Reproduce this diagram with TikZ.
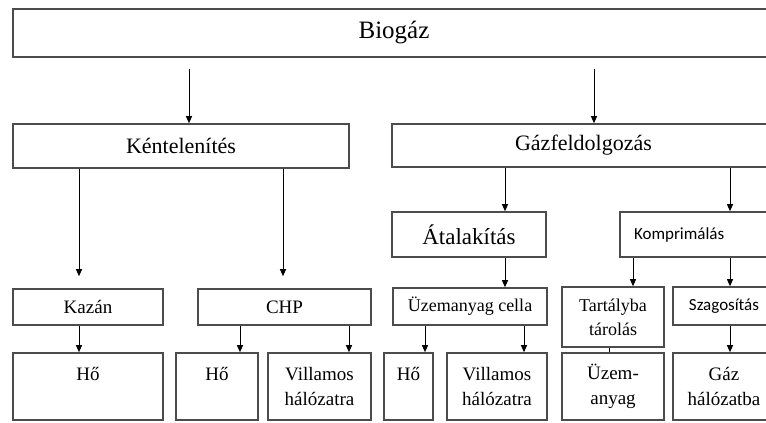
\documentclass[tikz,border=0pt]{standalone}
\usepackage{fontspec}
\setmainfont{Liberation Serif}
\newfontfamily\calibri{Carlito}
\usetikzlibrary{arrows.meta}

\newcommand{\fsz}[1]{\fontsize{#1}{1.35\dimexpr#1pt\relax}\selectfont}

\tikzset{
	box/.style={draw=black!70, line width=1.6pt, inner sep=0pt, align=center, text=black, font=\fsz{19}},
	sz/.style 2 args={minimum width=#1pt, minimum height=#2pt},
	arr/.style={-{Triangle[length=7pt,width=6pt]}, line width=1pt},
}

\begin{document}
\begin{tikzpicture}[x=1pt,y=-1pt]
	\useasboundingbox (0,0) rectangle (766,423);
	\clip (0,0) rectangle (766,423);
	% levels
	\node[box, sz={762}{48}, font=\fsz{25}] (biogaz) at (394,33) {Biogáz};
	\node[box, sz={336}{44}, font=\fsz{22}] (kentel) at (181,146) {Kéntelenítés};
	\node[box, sz={383}{43}, font=\fsz{22}] (gazfeld) at (583.5,145.5) {Gázfeldolgozás};
	\node[box, sz={154}{45}, font=\fsz{23}] (atalak) at (469,234.5) {Átalakítás};
	\node[box, sz={155}{45}, font=\calibri\fsz{17}, text width=127pt, inner xsep=14pt, align=left] (kompr) at (697.5,234.5) {Komprimálás};
	\node[box, sz={150}{36}] (kazan) at (88,307) {Kazán};
	\node[box, sz={173}{36}] (chp) at (284.5,307) {CHP};
	\node[box, sz={154}{37}, font=\fsz{18}] (cella) at (470,306.5) {Üzemanyag cella};
	\node[box, sz={102}{60}, font=\fsz{18}] (tartaly) at (613,317) {Tartályba\\tárolás};
	\node[box, sz={102}{38}, font=\calibri\fsz{17}] (szag) at (724,306) {Szagosítás};
	\node[box, sz={150}{67}] (ho1) at (88,386.5) {Hő\\\phantom{x}};
	\node[box, sz={82}{67}] (ho2) at (217,386.5) {Hő\\\phantom{x}};
	\node[box, sz={103}{67}] (vill1) at (319.5,386.5) {Villamos\\hálózatra};
	\node[box, sz={49}{67}] (ho3) at (408.5,386.5) {Hő\\\phantom{x}};
	\node[box, sz={100}{67}] (vill2) at (497,386.5) {Villamos\\hálózatra};
	\node[box, sz={102}{67}] (uzem) at (613,386.5) {Üzem-\\anyag};
	\node[box, sz={102}{67}] (gaz) at (724,386.5) {Gáz\\hálózatba};
	% arrows
	\draw[arr, shorten <=11pt] (biogaz.south -| 189,0) -- (kentel.north -| 189,0);
	\draw[arr, shorten <=11pt] (biogaz.south -| 594,0) -- (gazfeld.north -| 594,0);
	\draw[arr, shorten >=12pt] (kentel.south -| 79,0) -- (kazan.north -| 79,0);
	\draw[arr, shorten >=12pt] (kentel.south -| 283,0) -- (chp.north -| 283,0);
	\draw[arr] (gazfeld.south -| 505,0) -- (atalak.north -| 505,0);
	\draw[arr] (gazfeld.south -| 730,0) -- (kompr.north -| 730,0);
	\draw[arr] (atalak.south -| 505,0) -- (cella.north -| 505,0);
	\draw[arr] (kompr.south -| 633,0) -- (tartaly.north -| 633,0);
	\draw[arr] (kompr.south -| 730,0) -- (szag.north -| 730,0);
	\draw[arr] (kazan.south -| 79,0) -- (ho1.north -| 79,0);
	\draw[arr] (chp.south -| 240,0) -- (ho2.north -| 240,0);
	\draw[arr] (chp.south -| 349,0) -- (vill1.north -| 349,0);
	\draw[arr] (cella.south -| 425,0) -- (ho3.north -| 425,0);
	\draw[arr] (cella.south -| 524,0) -- (vill2.north -| 524,0);
	\draw[line width=1pt] (tartaly.south -| 609,0) -- (uzem.north -| 609,0);
	\draw[arr] (szag.south -| 730,0) -- (gaz.north -| 730,0);
\end{tikzpicture}
\end{document}
